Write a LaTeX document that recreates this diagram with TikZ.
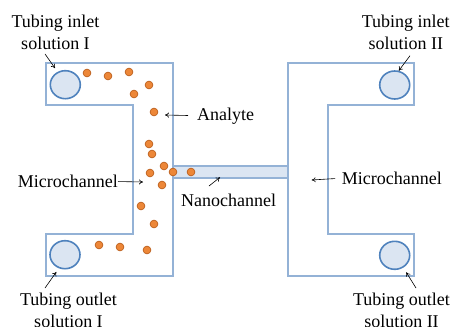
\documentclass[tikz,border=0pt]{standalone}
\usepackage{fontspec}
\setmainfont{Liberation Serif}
\usepackage{tikz}
\usetikzlibrary{arrows.meta, shapes.geometric}
\definecolor{chanEdge}{rgb}{0.58, 0.70, 0.84}
\definecolor{chanFill}{rgb}{0.86, 0.90, 0.95}
\definecolor{portEdge}{rgb}{0.31, 0.51, 0.74}
\definecolor{dotFill}{rgb}{0.93, 0.53, 0.22}
\definecolor{dotEdge}{rgb}{0.74, 0.38, 0.12}
\tikzset{
	chan/.style={draw=chanEdge, line width=1.3pt, line join=miter},
	port/.style={ellipse, draw=portEdge, fill=chanFill, line width=1.6pt, minimum width=30pt, minimum height=28pt, inner sep=0},
	particle/.style={fill=dotFill, draw=dotEdge, line width=0.7pt},
	lbl/.style={font=\fontsize{18}{22}\selectfont, inner sep=0, align=center},
	pointer/.style={black, line width=0.6pt, -{To[length=4pt, width=5pt]}}
}

\begin{document}
\begin{tikzpicture}[x=1pt, y=-1pt]
	\useasboundingbox (0,0) rectangle (453,327);
	% left and right channels
	\draw[chan] (46,63) -- (173,63) -- (173,276) -- (46,276) -- (46,234) -- (133,234) -- (133,105) -- (46,105) -- cycle;
	\draw[chan] (288,63) -- (414,63) -- (414,105) -- (328,105) -- (328,234) -- (414,234) -- (414,276) -- (288,276) -- cycle;
	\filldraw[chan, fill=chanFill] (173,166) rectangle (288,178);
	% ports
	\node[port] (inI) at (65.3,84.7) {};
	\node[port] (outI) at (65,254.7) {};
	\node[port] (inII) at (394.7,85) {};
	\node[port] (outII) at (394.7,255.3) {};
	% analyte particles
	\foreach \x/\y in {87/73, 108/76, 129/72, 149/85, 134/94, 154/112, 149/144, 152/154, 164/166,
		173/172, 191/172, 150/173, 162/185, 141/206, 154/224, 99/245, 120/247, 147/250}
		\filldraw[particle] (\x,\y) circle (3.9pt);
	% labels
	\node[lbl, anchor=north] (inItxt) at (55.5,14.6) {Tubing inlet\\solution I};
	\node[lbl, anchor=north] (inIItxt) at (405.8,14.6) {Tubing inlet\\solution II};
	\node[lbl, anchor=north] (outItxt) at (68.5,292.4) {Tubing outlet\\solution I};
	\node[lbl, anchor=north] (outIItxt) at (401.5,293) {Tubing outlet\\solution II};
	\node[lbl, anchor=base west] (analyte) at (197,120) {Analyte};
	\node[lbl, anchor=base east] (micL) at (118,187.7) {Microchannel};
	\node[lbl, anchor=base west] (micR) at (341.7,184.3) {Microchannel};
	\node[lbl, anchor=base west] (nano) at (181,206.7) {Nanochannel};
	\coordinate (analyteTip) at (165,115);
	\coordinate (micLTip) at (143,182);
	\coordinate (micRTip) at (311.7,180);
	\coordinate (nanoTip) at (220,177.3);
	% pointers
	\draw[pointer, shorten >=4.4pt] ([xshift=-10.5pt, yshift=-4.3pt]inItxt.south) -- (inI.121);
	\draw[pointer] ([xshift=4.2pt, yshift=-6pt]inIItxt.south) -- (inII.74);
	\draw[pointer, shorten >=4.4pt] ([xshift=-23.5pt, yshift=4.4pt]outItxt.north) -- (outI.246);
	\draw[pointer, shorten >=5.4pt] ([xshift=14.5pt, yshift=5pt]outIItxt.north) -- (outII.305);
	\draw[pointer, shorten <=9pt] (analyte.west) -- (analyteTip);
	\draw[pointer] (micL.east) -- (micLTip);
	\draw[pointer, shorten <=6.5pt] (micR.west) -- (micRTip);
	\draw[pointer] ([xshift=28pt, yshift=8pt]nano.north west) -- (nanoTip);
\end{tikzpicture}
\end{document}
